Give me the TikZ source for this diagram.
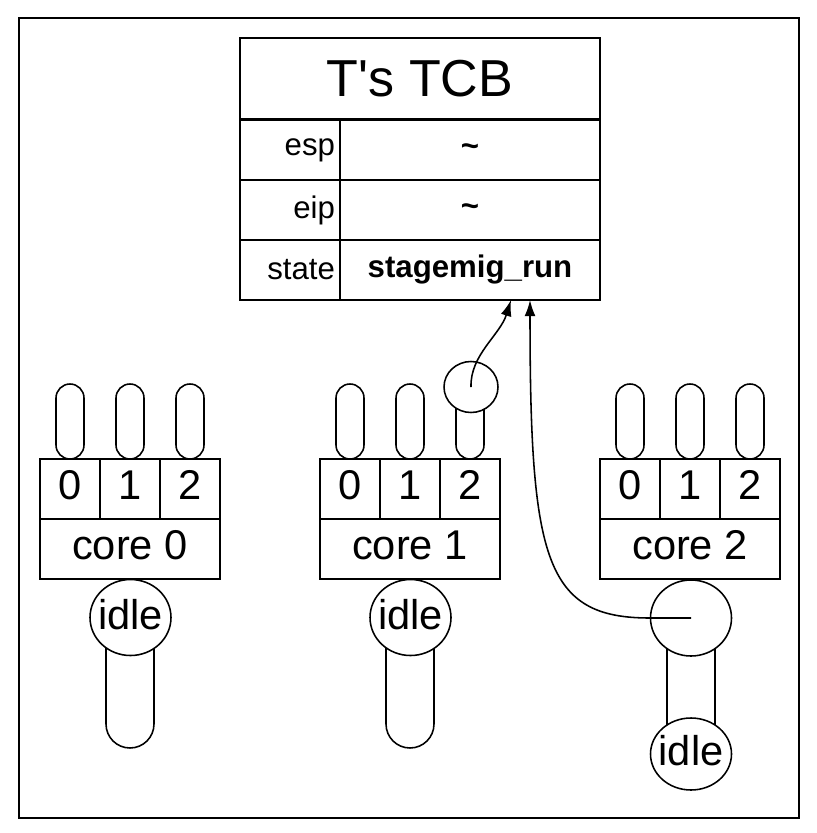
\documentclass[tikz,border=0pt]{standalone}
\usepackage{fontspec}
\setmainfont{Liberation Sans}
\usetikzlibrary{arrows.meta,shapes.geometric}
\newcommand{\pxu}{0.3846pt}
\tikzset{
  tcbtitle/.style={draw, line width=0.75pt, minimum width=360*\pxu, minimum height=81*\pxu, inner sep=0pt, font=\fontsize{20}{24}\selectfont},
  tcblabel/.style={draw, line width=0.75pt, minimum width=100*\pxu, minimum height=60*\pxu, text width=90*\pxu, inner xsep=5*\pxu, align=right, font=\fontsize{12}{14}\selectfont},
  tcbvalue/.style={draw, line width=0.75pt, minimum width=260*\pxu, minimum height=60*\pxu, inner sep=0pt, font=\fontsize{12}{14}\selectfont\bfseries},
  slot/.style={draw, fill=white, line width=0.6pt, rounded corners=14*\pxu, minimum width=28*\pxu, minimum height=75*\pxu, inner sep=0pt},
  cell/.style={draw, line width=0.75pt, minimum width=60*\pxu, minimum height=60*\pxu, inner sep=0pt, text depth=3pt, font=\fontsize{16}{19}\selectfont},
  corebox/.style={cell, minimum width=180*\pxu},
  stack/.style={slot, rounded corners=24*\pxu, minimum width=48*\pxu, minimum height=131*\pxu},
  thread/.style={ellipse, draw, fill=white, line width=0.6pt, minimum width=81*\pxu, minimum height=76*\pxu, inner sep=0pt, text depth=2.5pt, font=\fontsize{16}{19}\selectfont},
  link/.style={->, line width=0.6pt}
}
\begin{document}
\begin{tikzpicture}[x=\pxu, y=-\pxu, >={Latex[length=6.2pt,width=4.2pt]}]
  \useasboundingbox (0,0) rectangle (816,833);
  \draw[line width=0.75pt] (19,18) rectangle (799,818);

  % the TCB of T
  \node[tcbtitle] (title) at (420,78.5) {T\textquotesingle s TCB};
  \node[tcblabel] (esp) at (290,150) {esp};
  \node[tcbvalue] (espval) at (470,150) {\textasciitilde};
  \node[tcblabel] (eip) at (290,210) {eip};
  \node[tcbvalue] (eipval) at (470,210) {\textasciitilde};
  \node[tcblabel] (state) at (290,270) {state};
  \node[tcbvalue] (stval) at (470,270) {stagemig\_run};
  \coordinate (in1) at (511,300);
  \coordinate (in2) at (530,300);

  % cores with their queues
  \foreach \c/\x in {0/40,1/320,2/600}
  {
    \foreach \k in {0,1,2}
    {
      \node[slot] (slot\c\k) at (\x+30+60*\k,421.5) {};
      \node[cell] (cell\c\k) at (\x+30+60*\k,489) {\k};
    }
    \node[corebox] (core\c) at (\x+90,549) {core \c};
  }

  % stacks and threads
  \node[stack] (stack0) at (130,682.5) {};
  \node[stack] (stack1) at (410,682.5) {};
  \node[stack, minimum height=150*\pxu] (stack2) at (691,695) {};
  \node[thread] (idle0) at (130.5,617.5) {\makebox[0pt]{idle}};
  \node[thread] (idle1) at (410.5,617.5) {\makebox[0pt]{idle}};
  \node[thread, minimum height=72*\pxu] (idle2) at (691,754) {\makebox[0pt]{idle}};
  \node[thread, minimum width=54*\pxu, minimum height=51*\pxu] (tok1) at (471,387) {};
  \node[thread] (tok2) at (691,618) {};

  \draw[link] (tok1.center) .. controls (470,355) and (500,335) .. (in1);
  \draw[link] (tok2.center) -- (tok2.west) .. controls (545,618) and (530,560) .. (in2);
\end{tikzpicture}
\end{document}
